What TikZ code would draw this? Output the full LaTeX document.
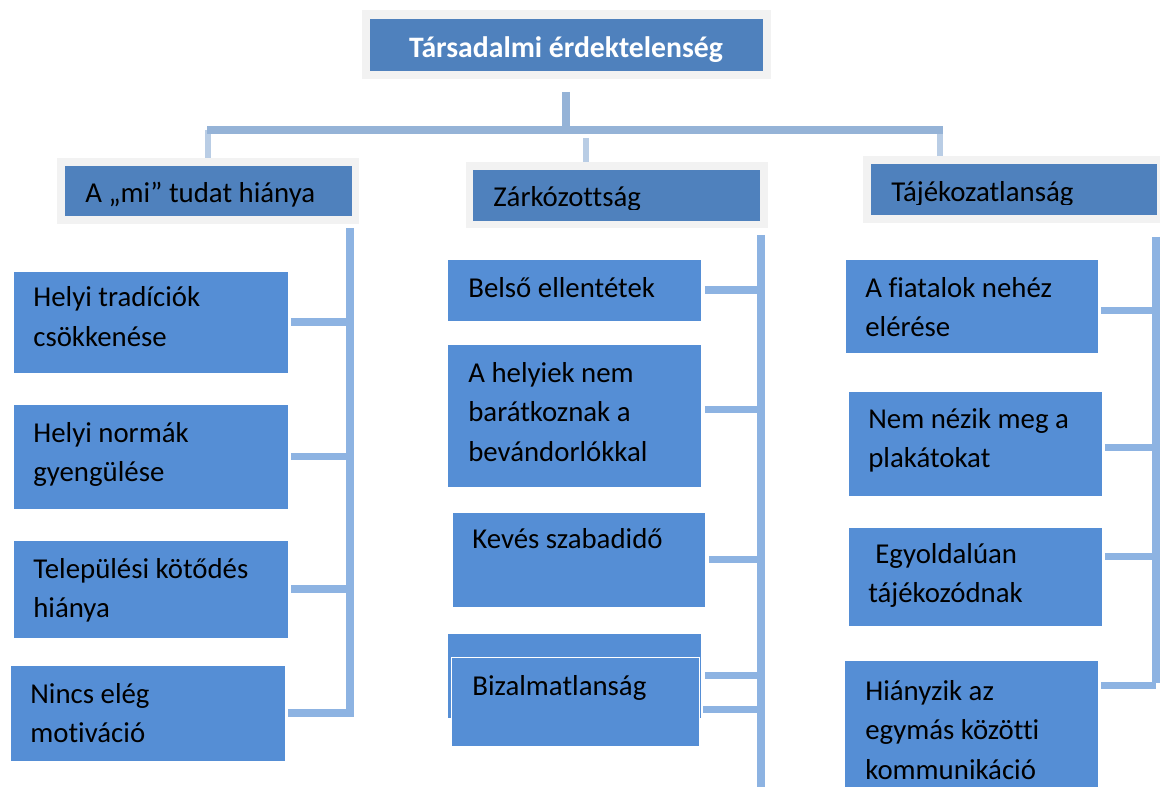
\documentclass[tikz,border=0pt]{standalone}
\usepackage{fontspec}
\setmainfont[Ligatures=NoCommon]{Carlito}
\usetikzlibrary{fit}

\definecolor{framegray}{HTML}{F2F2F2}
\definecolor{headblue}{HTML}{4F81BD}
\definecolor{leafblue}{HTML}{558ED5}
\definecolor{busblue}{HTML}{8DB3E2}
\definecolor{barblue}{HTML}{95B3D7}
\definecolor{dropblue}{HTML}{B9CDE5}

% lines of a box, first baseline on top
\newcommand\boxlines[1]{\begin{tabular}[t]{@{}l@{}}#1\end{tabular}}

\tikzset{
  frame/.style={fill=framegray, inner sep=0pt},
  head/.style={fill=headblue, inner sep=0pt},
  leaf/.style={fill=leafblue, draw=white, line width=0.4pt, inner sep=0pt},
  txt/.style={anchor=base west, inner sep=0pt, font=\fontsize{16.4}{22.7}\selectfont},
  bar/.style={barblue, line width=4.5pt},
  drop/.style={dropblue, line width=3.4pt},
  bus/.style={busblue, line width=4pt},
}

\begin{document}
\begin{tikzpicture}[x=0.02cm, y=-0.02cm]
    \clip (0,0) rectangle (1160,787);

    % top box
    \node[frame, fit={(362,10) (771,79)}] (rootf) {};
    \node[head, fit={(370,19) (763,71)}] (root) {};
    \node[txt, anchor=base, text=white, font=\fontsize{16.9}{22.7}\selectfont\bfseries] (roott) at (566,58) {Társadalmi érdektelenség};

    % second level
    \node[frame, fit={(57,158) (359,224)}] (mif) {};
    \node[head, fit={(65,166) (352,216)}] (mi) {};
    \node[txt] (mit) at (85,203) {A „mi” tudat hiánya};

    \node[frame, fit={(466,162) (768,228)}] (zarkf) {};
    \node[head, fit={(473,170) (760,221)}] (zark) {};
    \begin{scope}
      \clip (473,170) rectangle (760,210);
      \node[txt] (zarkt) at (493,207) {Zárkózottság};
    \end{scope}

    \node[frame, fit={(863,156) (1160,223)}] (tajf) {};
    \node[head, fit={(871,164) (1157,215)}] (taj) {};
    \begin{scope}
      \clip (871,164) rectangle (1157,205);
      \node[txt] (tajt) at (891,202) {Tájékozatlanság};
    \end{scope}

    % tree lines on top
    \coordinate (trunk) at (566,92);
    \coordinate (barL) at (207,130);
    \coordinate (barR) at (943,130);
    \coordinate (dropZ) at (586,138);
    \coordinate (dropT) at (940,130);
    \draw[drop] (mif.north |- barL) -- (mif.north);
    \draw[drop] (dropZ) -- (dropZ |- zarkf.north);
    \draw[drop] (dropT) -- (dropT |- tajf.north);
    \draw[bar] (trunk) -- (trunk |- barL);
    \draw[bar] (barL) -- (barR);

    % left column
    \node[leaf, fit={(13,271) (288,373)}] (l1) {};
    \node[txt] (l1t) at (33,307) {\boxlines{Helyi tradíciók\\csökkenése}};
    \node[leaf, fit={(13,404) (288,509)}] (l2) {};
    \node[txt] (l2t) at (33,442) {\boxlines{Helyi normák\\gyengülése}};
    \node[leaf, fit={(13,540) (288,638)}] (l3) {};
    \node[txt] (l3t) at (33,578) {\boxlines{Települési kötődés\\hiánya}};
    \node[leaf, fit={(10,665) (285,761)}] (l4) {};
    \node[txt] (l4t) at (30,703) {\boxlines{Nincs elég\\motiváció}};
    \coordinate (lbus) at (350,228);
    \coordinate (lend) at (350,717);
    \draw[bus] (lbus) -- (lend);
    \foreach \b in {l1,l2,l3,l4}
      \draw[bus] ([xshift=1.5pt]\b.east) -- (\b.east -| lbus);

    % middle column
    \node[leaf, fit={(447,259) (701,321)}] (m1) {};
    \node[txt] (m1t) at (468,297) {Belső ellentétek};
    \node[leaf, fit={(447,344) (701,487)}] (m2) {};
    \node[txt] (m2t) at (468,382) {\boxlines{A helyiek nem\\barátkoznak a\\bevándorlókkal}};
    \node[leaf, fit={(452,512) (705,607)}] (m3) {};
    \node[txt] (m3t) at (472,548) {Kevés szabadidő};
    \node[leaf, fit={(447,633) (701,718)}] (m4) {};
    \node[leaf, fit={(451,657) (699,746)}] (m5) {};
    \node[txt] (m5t) at (472,695) {Bizalmatlanság};
    \coordinate (mbus) at (761,235);
    \coordinate (mend) at (761,787);
    \draw[bus] (mbus) -- (mend);
    \draw[bus] ([xshift=2pt]m1.east) -- (m1.east -| mbus);
    \draw[bus] ([shift={(2pt,3.4pt)}]m2.east) -- ([yshift=3.4pt]m2.east -| mbus);
    \draw[bus] ([xshift=2pt]m3.east) -- (m3.east -| mbus);
    \draw[bus] ([xshift=2pt]m4.east) -- (m4.east -| mbus);
    \draw[bus] ([shift={(2pt,-4.5pt)}]m5.east) -- ([yshift=-4.5pt]m5.east -| mbus);

    % right column
    \node[leaf, fit={(845,259) (1098,353)}] (r1) {};
    \node[txt] (r1t) at (865,297) {\boxlines{A fiatalok nehéz\\elérése}};
    \node[leaf, fit={(848,391) (1102,496)}] (r2) {};
    \node[txt] (r2t) at (868,428) {\boxlines{Nem nézik meg a\\plakátokat}};
    \node[leaf, fit={(848,527) (1102,626)}] (r3) {};
    \node[txt] (r3t) at (868,563) {\boxlines{\hspace{4pt}Egyoldalúan\\tájékozódnak}};
    \node[leaf, fit={(844,660) (1098,800)}] (r4) {};
    \node[txt] (r4t) at (865,700) {\boxlines{Hiányzik az\\egymás közötti\\kommunikáció}};
    \coordinate (rbus) at (1156,237);
    \coordinate (rend) at (1156,683);
    \draw[bus] (rbus) -- (rend);
    \draw[bus] ([shift={(1.5pt,-2.8pt)}]r1.east) -- ([yshift=-2.8pt]r1.east -| rbus);
    \draw[bus] ([shift={(1.5pt,-2.3pt)}]r2.east) -- ([yshift=-2.3pt]r2.east -| rbus);
    \draw[bus] ([shift={(1.5pt,11.3pt)}]r3.east) -- ([yshift=11.3pt]r3.east -| rbus);
    \draw[bus] ([shift={(1.5pt,-14.7pt)}]r4.north east) -- ([yshift=-14.7pt]r4.north east -| rbus);
\end{tikzpicture}
\end{document}
